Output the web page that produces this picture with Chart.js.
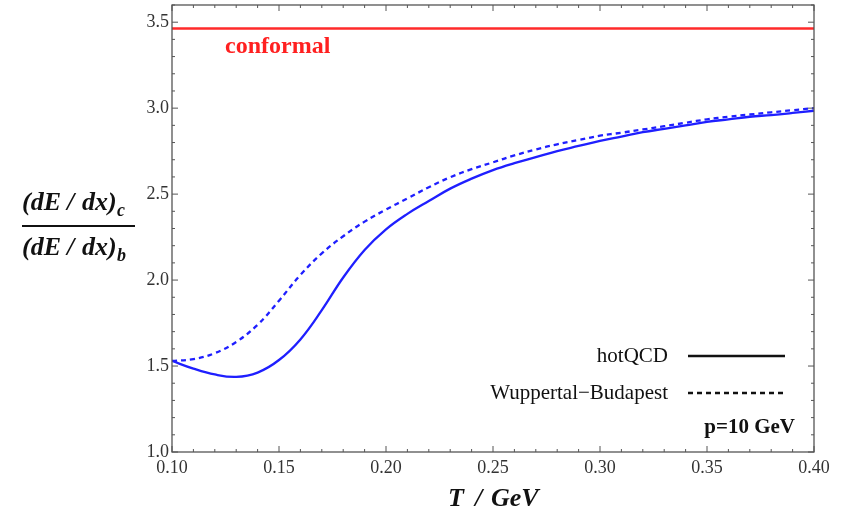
<!DOCTYPE html>
<html>
<head>
<meta charset="utf-8">
<script src="https://cdn.jsdelivr.net/npm/chart.js@4.4.0/dist/chart.umd.min.js"></script>
<style>
  html, body { margin: 0; padding: 0; background: #fff; }
  #wrap { width: 846px; height: 515px; }
</style>
</head>
<body>
<div id="wrap"><canvas id="c" width="846" height="515"></canvas></div>
<script>
// temperature grid (GeV)
const temps = [0.10, 0.11, 0.12, 0.13, 0.14, 0.15, 0.16, 0.17, 0.18, 0.19, 0.20,
               0.21, 0.22, 0.23, 0.24, 0.25, 0.26, 0.27, 0.28, 0.29, 0.30,
               0.31, 0.32, 0.33, 0.34, 0.35, 0.36, 0.37, 0.38, 0.39, 0.40];
// ratio (dE/dx)_c / (dE/dx)_b
const hotQCD = [1.53, 1.485, 1.451, 1.437, 1.462, 1.535, 1.655, 1.825, 2.015, 2.175, 2.295,
                2.385, 2.46, 2.532, 2.59, 2.64, 2.68, 2.715, 2.75, 2.78, 2.81,
                2.835, 2.86, 2.88, 2.90, 2.92, 2.935, 2.95, 2.96, 2.972, 2.985];
const wuppertal = [1.53, 1.54, 1.575, 1.64, 1.74, 1.88, 2.03, 2.155, 2.255, 2.34, 2.41,
                   2.475, 2.54, 2.598, 2.645, 2.685, 2.725, 2.76, 2.79, 2.815, 2.84,
                   2.857, 2.876, 2.895, 2.915, 2.935, 2.95, 2.963, 2.976, 2.988, 3.0];
const conformalT = [0.10, 0.40];
const conformal = [3.464, 3.464];

const xTicks = [0.10, 0.15, 0.20, 0.25, 0.30, 0.35, 0.40];
const yTicks = [1.0, 1.5, 2.0, 2.5, 3.0, 3.5];

const blue = '#1f1fff';
const serif = '"Liberation Serif", "DejaVu Serif", serif';

const pts = (xs, ys) => xs.map((x, i) => ({ x: x, y: ys[i] }));

// frame with inward ticks on all four sides, plus the text overlays
const framePlugin = {
  id: 'frame',
  afterDraw(chart) {
    const ctx = chart.ctx;
    const a = chart.chartArea;
    const xs = chart.scales.x, ys = chart.scales.y;
    ctx.save();
    ctx.strokeStyle = '#555';
    ctx.lineWidth = 1.3;
    ctx.strokeRect(a.left, a.top, a.right - a.left, a.bottom - a.top);

    ctx.lineWidth = 1;
    ctx.beginPath();
    for (let i = 0; i <= 30; i++) {
      const px = xs.getPixelForValue(0.10 + i * 0.01);
      const len = (i % 5 === 0) ? 6 : 3;
      ctx.moveTo(px, a.bottom); ctx.lineTo(px, a.bottom - len);
      ctx.moveTo(px, a.top); ctx.lineTo(px, a.top + len);
    }
    for (let i = 0; i <= 26; i++) {
      const py = ys.getPixelForValue(1.0 + i * 0.1);
      const len = (i % 5 === 0) ? 6 : 3;
      ctx.moveTo(a.left, py); ctx.lineTo(a.left + len, py);
      ctx.moveTo(a.right, py); ctx.lineTo(a.right - len, py);
    }
    ctx.stroke();

    // conformal label
    ctx.fillStyle = '#ff2020';
    ctx.font = 'bold 24px ' + serif;
    ctx.textBaseline = 'middle';
    ctx.textAlign = 'left';
    ctx.fillText('conformal', 225, 47);

    // legend
    ctx.fillStyle = '#111';
    ctx.font = '21px ' + serif;
    ctx.textAlign = 'right';
    ctx.fillText('hotQCD', 668, 356);
    ctx.fillText('Wuppertal\u2212Budapest', 668, 393);
    ctx.strokeStyle = '#111';
    ctx.lineWidth = 2.5;
    ctx.beginPath(); ctx.moveTo(688, 356); ctx.lineTo(785, 356); ctx.stroke();
    ctx.setLineDash([5, 4]);
    ctx.beginPath(); ctx.moveTo(688, 393); ctx.lineTo(786, 393); ctx.stroke();
    ctx.setLineDash([]);
    ctx.font = 'bold 21px ' + serif;
    ctx.fillText('p=10 GeV', 795, 428);

    // x title, pieces spaced like the original
    ctx.textAlign = 'left';
    ctx.font = 'bold italic 26px ' + serif;
    ctx.fillText('T', 448, 499);
    ctx.fillText('/', 475, 499);
    ctx.fillText('GeV', 491, 499);

    // y title as a fraction
    const num = (y) => {
      ctx.font = 'bold italic 26px ' + serif;
      ctx.fillText('(dE', 22, y);
      ctx.fillText('/', 67, y);
      ctx.fillText('dx)', 82, y);
    };
    num(203);
    num(248);
    ctx.font = 'bold italic 18px ' + serif;
    ctx.fillText('c', 117, 211);
    ctx.fillText('b', 117, 256);
    ctx.lineWidth = 2;
    ctx.beginPath(); ctx.moveTo(22, 226); ctx.lineTo(135, 226); ctx.stroke();
    ctx.restore();
  }
};

new Chart(document.getElementById('c'), {
  type: 'scatter',
  data: {
    datasets: [
      {
        label: 'conformal',
        data: pts(conformalT, conformal),
        showLine: true, borderColor: '#ff2a2a', borderWidth: 2.5, pointRadius: 0
      },
      {
        label: 'hotQCD',
        data: pts(temps, hotQCD),
        showLine: true, borderColor: blue, borderWidth: 2.3, pointRadius: 0,
        tension: 0.4
      },
      {
        label: 'Wuppertal-Budapest',
        data: pts(temps, wuppertal),
        showLine: true, borderColor: blue, borderWidth: 2.3, pointRadius: 0,
        borderDash: [5, 4], tension: 0.4
      }
    ]
  },
  options: {
    responsive: false,
    animation: false,
    layout: { padding: { left: 0, top: 5, right: 32, bottom: 0 } },
    plugins: { legend: { display: false }, tooltip: { enabled: false } },
    scales: {
      x: {
        type: 'linear', min: 0.10, max: 0.40,
        afterBuildTicks: s => { s.ticks = xTicks.map(v => ({ value: v })); },
        afterFit: s => { s.height = 63; s.paddingLeft = 0; s.paddingRight = 0; },
        grid: { display: false, drawTicks: false },
        border: { display: false },
        ticks: {
          padding: 5, color: '#333', maxRotation: 0, autoSkip: false,
          font: { family: serif, size: 18 },
          callback: v => v.toFixed(2)
        }
      },
      y: {
        type: 'linear', min: 1.0, max: 3.6,
        afterBuildTicks: s => { s.ticks = yTicks.map(v => ({ value: v })); },
        afterFit: s => { s.width = 172; s.paddingTop = 0; s.paddingBottom = 0; },
        grid: { display: false, drawTicks: false },
        border: { display: false },
        ticks: {
          padding: 3, color: '#333', autoSkip: false,
          font: { family: serif, size: 18 },
          callback: v => v.toFixed(1)
        }
      }
    }
  },
  plugins: [framePlugin]
});
</script>
</body>
</html>
